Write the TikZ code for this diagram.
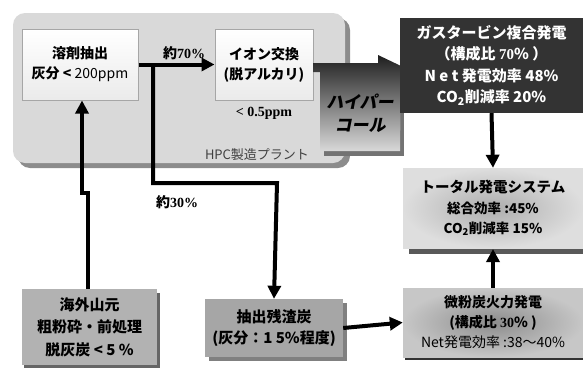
\documentclass[tikz,border=0pt]{standalone}
\usepackage{fontspec}
\setmainfont{Noto Sans CJK JP}
\newfontfamily\sn{Liberation Serif}
\usetikzlibrary{arrows.meta,shadings}
\tikzset{
  x=1pt,y=-1pt,
  conn/.style={line width=4pt,-{Triangle[length=13pt,width=13pt]}},
  whitebox/.style={draw=black!35,line width=1pt,top color=white,bottom color=black!8,minimum width=#1,inner sep=0pt,align=center,font=\fontsize{14}{20}\selectfont\bfseries},
  graybox/.style={fill=black!30,minimum width=#1,inner sep=0pt,align=center,font=\fontsize{15}{22.5}\selectfont\bfseries},
  lbl/.style={font=\fontsize{14}{16}\selectfont\bfseries,inner sep=0pt}
}
\begin{document}
\begin{tikzpicture}
\useasboundingbox (0,0) rectangle (583,367);
% HPC plant
\fill[black!45,rounded corners=12pt] (18,18) rectangle (350,168);
\fill[black!15,rounded corners=12pt] (13,13) rectangle (345,163);
\node[font=\fontsize{13}{14}\selectfont,text=black!75,inner sep=0pt] (hpc) at (257,155) {HPC製造プラント};
% boxes in plant
\node[whitebox=116pt,minimum height=71pt] (b1) at (80,64.5) {溶剤抽出\\灰分 < \mdseries 200ppm};
\node[whitebox=98pt,minimum height=71pt] (b2) at (264,64.5) {イオン交換\\(脱アルカリ)};
\node[lbl] (p05) at (264,113) {\sn < 0.5ppm};
% hyper coal block
\fill[black!55] (324,76) -- (404,76) -- (404,156) -- (324,156) -- cycle;
\shade[top color=black!88,bottom color=black!15] (313,63) -- (378,63) -- (378,55) -- (401,66) -- (400,151) -- (320,151) -- (320,72) -- (313,72) -- cycle;
\node[font=\fontsize{17}{23}\selectfont\bfseries\addfontfeatures{FakeSlant=0.2},align=center,inner sep=0pt] (hc) at (360,113) {ハイパー\\コール};
% gas turbine
\node[fill=black!80,minimum width=183pt,minimum height=95pt,inner sep=0pt,align=center,text=white,font=\fontsize{15}{21.5}\selectfont\bfseries] (gt) at (491.5,65.5) {ガスタービン複合発電\\（構成比 {\sn 70}\% ）\\N e t 発電効率 48\%\\CO\textsubscript{2}削減率 20\%};
% total
\fill[black!65] (409,248) rectangle (583,254);
\node[shade,inner color=black!32,outer color=black!13,minimum width=180pt,minimum height=80pt,inner sep=0pt,align=center,font=\fontsize{13.5}{20.5}\selectfont\bfseries] (tot) at (493,208) {\fontsize{14.5}{20.5}\selectfont トータル発電システム\\総合効率 :45\%\\CO\textsubscript{2}削減率 15\%};
% bottom boxes
\fill[black!60] (24,293) rectangle (160,368);
\node[graybox=135pt,minimum height=76pt] (ov) at (89.5,327) {海外山元\\粗粉砕・前処理\\脱灰炭 < 5 \%};
\fill[black!50] (209,303) rectangle (347,361);
\node[graybox=138pt,minimum height=58pt,fill=black!35,font=\fontsize{15}{21}\selectfont\bfseries] (res) at (274,328) {抽出残渣炭\\(灰分：1 5\%程度)};
\fill[black!80] (405,292) rectangle (583,360);
\node[shade,inner color=black!45,outer color=black!22,minimum width=180pt,minimum height=69pt,inner sep=0pt,align=center,font=\fontsize{14}{20}\selectfont\bfseries] (pc) at (493,322.5) {微粉炭火力発電\\(構成比 {\sn 30}\% )\\\mdseries Net発電効率 :38～40\%};
% connectors
\draw[conn] (b1.east) -- (b2.west);
\node[lbl,anchor=south] (p70) at (184,60) {約{\sn 70\%}};
\coordinate (br) at (153,64.5);
\draw[conn] (br) |- (277,183) -- (res.north);
\node[lbl] (p30) at (177,202) {約{\sn 30\%}};
\draw[conn] ([xshift=-1.5pt]ov.north) -- (88,193) -- (82,193) -- ([xshift=2pt]b1.south);
\draw[conn] (gt.south) -- (tot.north);
\draw[conn] (pc.north) -- (493,249);
\draw[conn] (res.east) -- (pc.west);
\end{tikzpicture}
\end{document}
